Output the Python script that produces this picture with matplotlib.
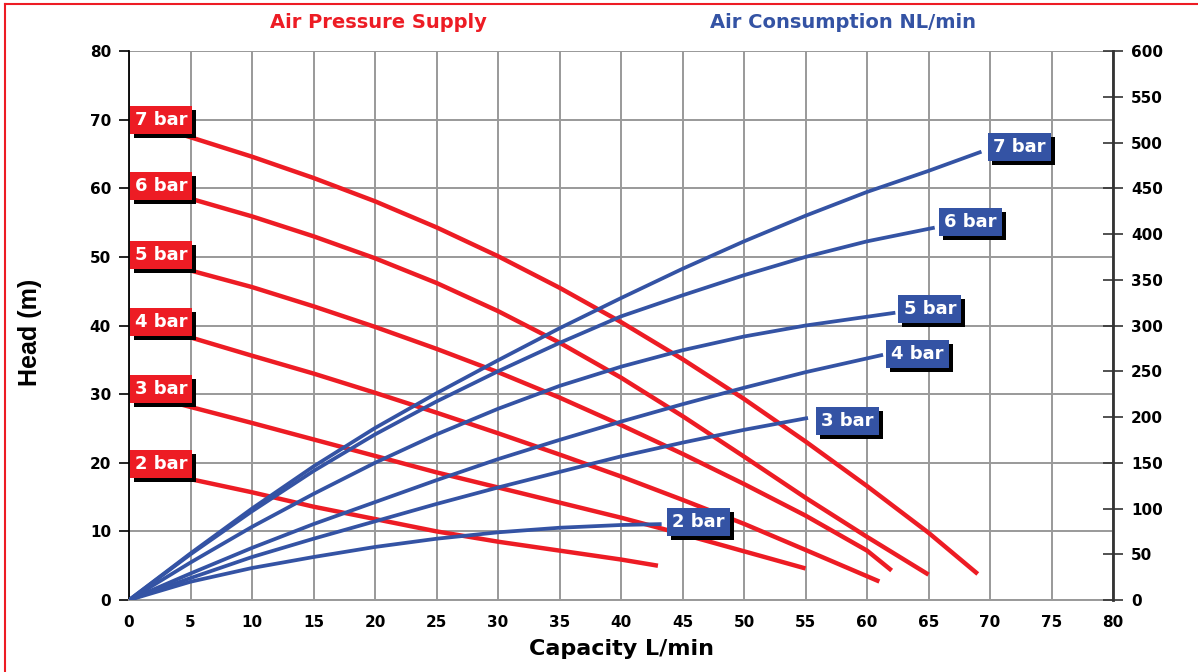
import matplotlib.pyplot as plt
from matplotlib.lines import Line2D
from matplotlib.transforms import offset_copy

# Pump curves: head (m) vs capacity (L/min) for each air pressure
cap_7 = [4, 10, 15, 20, 25, 30, 35, 40, 45, 50, 55, 60, 65, 69]
head_7 = [68, 64.6, 61.5, 58.1, 54.3, 50.1, 45.5, 40.5, 35.1, 29.3, 23.1, 16.6, 9.8, 3.8]
cap_6 = [4, 10, 15, 20, 25, 30, 35, 40, 45, 50, 55, 60, 65]
head_6 = [59, 55.9, 53, 49.8, 46.2, 42.1, 37.5, 32.4, 26.8, 20.9, 14.9, 9.2, 3.7]
cap_5 = [4, 10, 15, 20, 25, 30, 35, 40, 45, 50, 55, 60, 62]
head_5 = [48.5, 45.6, 42.8, 39.8, 36.6, 33.2, 29.5, 25.5, 21.3, 16.9, 12.3, 7.2, 4.3]
cap_4 = [4, 10, 15, 20, 25, 30, 35, 40, 45, 50, 55, 61]
head_4 = [38.8, 35.6, 33, 30.2, 27.3, 24.3, 21.2, 18, 14.6, 11.1, 7.3, 2.7]
cap_3 = [4, 10, 15, 20, 25, 30, 35, 40, 45, 50, 55]
head_3 = [28.6, 25.8, 23.4, 21, 18.6, 16.4, 14.2, 12, 9.6, 7.1, 4.6]
cap_2 = [4, 10, 15, 20, 25, 30, 35, 40, 43]
head_2 = [18, 15.7, 13.6, 11.8, 10, 8.5, 7.2, 5.9, 5]

# Air consumption (NL/min) vs capacity (L/min)
air_cap_7 = [0, 5, 10, 15, 20, 25, 30, 35, 40, 45, 50, 55, 60, 65, 69.3]
air_7 = [0, 51, 100, 146, 188, 226, 262, 297, 330, 362, 392, 420, 446, 469, 490]
air_cap_6 = [0, 5, 10, 15, 20, 25, 30, 35, 40, 45, 50, 55, 60, 65.5]
air_6 = [0, 50, 97, 141, 181, 217, 250, 281, 310, 333, 355, 375, 392, 407]
air_cap_5 = [0, 5, 10, 15, 20, 25, 30, 35, 40, 45, 50, 55, 62.3]
air_5 = [0, 41, 80, 116, 150, 181, 209, 234, 255, 273, 288, 300, 314]
air_cap_4 = [0, 5, 10, 15, 20, 25, 30, 35, 40, 45, 50, 55, 61.3]
air_4 = [0, 29, 57, 83, 107, 131, 154, 175, 195, 214, 232, 249, 268]
air_cap_3 = [0, 5, 10, 15, 20, 25, 30, 35, 40, 45, 50, 55.2]
air_3 = [0, 24, 47, 67, 86, 105, 123, 140, 157, 172, 186, 199]
air_cap_2 = [0, 5, 10, 15, 20, 25, 30, 35, 40, 43.3]
air_2 = [0, 20, 35, 47, 58, 67, 74, 79, 82, 83]

labels = ['7 bar', '6 bar', '5 bar', '4 bar', '3 bar', '2 bar']
head_curves = [(cap_7, head_7), (cap_6, head_6), (cap_5, head_5),
               (cap_4, head_4), (cap_3, head_3), (cap_2, head_2)]
air_curves = [(air_cap_7, air_7), (air_cap_6, air_6), (air_cap_5, air_5),
              (air_cap_4, air_4), (air_cap_3, air_3), (air_cap_2, air_2)]

RED = '#ED1C24'
BLUE = '#3453A4'
GRID = '#999999'

fig = plt.figure(figsize=(11.98, 6.72), dpi=100)
ax = fig.add_axes([0.1077, 0.1071, 0.8214, 0.8170])
ax2 = ax.twinx()

for x, y in head_curves:
    ax.plot(x, y, color=RED, lw=3.2, solid_capstyle='butt', zorder=3)
for x, y in air_curves:
    ax2.plot(x, y, color=BLUE, lw=2.7, solid_capstyle='butt', zorder=3)

ax.set_xlim(0, 80)
ax.set_ylim(0, 80)
ax2.set_ylim(0, 600)
ax.set_xticks(range(0, 81, 5))
ax.set_yticks(range(0, 81, 10))
ax2.set_yticks(range(0, 601, 50))
ax.grid(True, color=GRID, lw=1.4)
ax.set_axisbelow(True)

ax.spines['top'].set_visible(False)
ax2.spines['top'].set_visible(False)
ax.spines['left'].set_color('black')
ax.spines['left'].set_linewidth(1.3)
ax.spines['bottom'].set_color(GRID)
ax.spines['bottom'].set_linewidth(1.4)
ax2.spines['right'].set_color('#333333')
ax2.spines['right'].set_linewidth(2)
ax2.spines['left'].set_visible(False)
ax2.spines['bottom'].set_visible(False)
ax.spines['right'].set_visible(False)

ax.tick_params(axis='y', direction='out', length=7, width=1.2, pad=6,
               labelsize=11)
ax.tick_params(axis='x', length=0, pad=11, labelsize=11)
ax2.tick_params(axis='y', direction='inout', length=14, width=1.2,
                color='#333333', pad=6, labelsize=11)
for lab in ax.get_xticklabels() + ax.get_yticklabels() + ax2.get_yticklabels():
    lab.set_fontweight('bold')

ax.set_xlabel('Capacity L/min', fontsize=16, fontweight='bold', labelpad=6)
ax.set_ylabel('Head (m)', fontsize=18, fontweight='bold',
              family=['Liberation Sans', 'DejaVu Sans'])
ax.yaxis.set_label_coords(-0.088, 0.488)

fig.text(0.3155, 0.967, 'Air Pressure Supply', color=RED, fontsize=14,
         fontweight='bold', ha='center', va='center')
fig.text(0.7037, 0.967, 'Air Consumption NL/min', color=BLUE, fontsize=14,
         fontweight='bold', ha='center', va='center')


def tag(axis, x, y, text, color):
    shadow = offset_copy(axis.transData, fig=fig, x=4, y=-4, units='dots')
    box = dict(boxstyle='square,pad=0.28', lw=0)
    axis.text(x, y, text, transform=shadow, ha='center', va='center',
              fontsize=13, fontweight='bold', color='black', zorder=5,
              bbox=dict(box, fc='black'))
    axis.text(x, y, text, ha='center', va='center', fontsize=13,
              fontweight='bold', color='white', zorder=6,
              bbox=dict(box, fc=color))


red_tag_pos = [(2.6, 70), (2.6, 60.3), (2.6, 50.3), (2.6, 40.5), (2.6, 30.7), (2.6, 19.8)]
blue_tag_pos = [(72.4, 495), (68.4, 413), (65.1, 318), (64.1, 269), (58.4, 196), (46.3, 85)]
for lab, (x, y) in zip(labels, red_tag_pos):
    tag(ax, x, y, lab, RED)
for lab, (x, y) in zip(labels, blue_tag_pos):
    tag(ax2, x, y, lab, BLUE)

# red frame on top and left edges
fig.add_artist(Line2D([0.0045, 0.0045], [0, 0.994], transform=fig.transFigure,
                      color=RED, lw=1.5))
fig.add_artist(Line2D([0.0045, 1], [0.994, 0.994], transform=fig.transFigure,
                      color=RED, lw=1.5))

fig.savefig('out.png', dpi=100)
